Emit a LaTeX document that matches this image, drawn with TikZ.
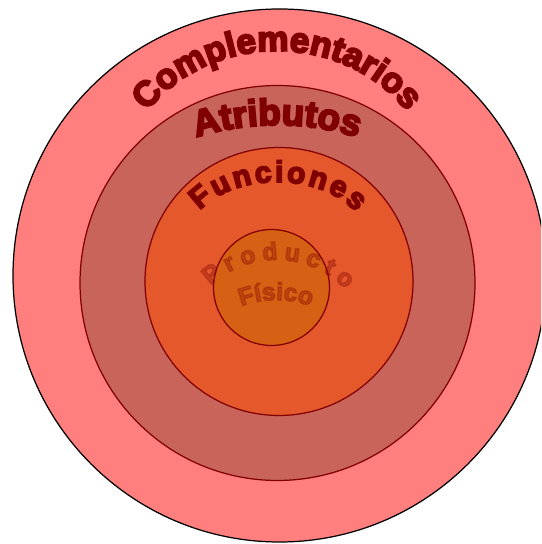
\documentclass[tikz,border=0pt]{standalone}
\usepackage{tikz}
\usepackage{xcolor}
\usepackage{fontspec}
\usetikzlibrary{decorations.text}

\newfontfamily\wordart[FakeBold=5.5]{Liberation Sans Bold}
\definecolor{ringA}{HTML}{FF7F7F}
\definecolor{ringB}{HTML}{C8645A}
\definecolor{ringC}{HTML}{E4582C}
\definecolor{ringD}{HTML}{D66014}
\definecolor{darkred}{HTML}{800000}

\tikzset{
	ring/.style={draw=#1, line width=0.7pt},
	bent label/.style 2 args={decorate, decoration={text along path, text align=center, text={|#1|#2}}},
}

\begin{document}
\begin{tikzpicture}[x=0.02cm, y=0.02cm]
	% Rings, from the outside in:
	\useasboundingbox (0,0) rectangle (541,544);
	\clip (0,0) rectangle (541,544);
	\draw[ring=black, fill=ringA] (279.5,268.5) circle[radius=266.5];
	\draw[ring=darkred, fill=ringB] (277.5,261) circle[radius=197.5];
	\draw[ring=darkred, fill=ringC] (279,262.5) circle[radius=134];
	\draw[ring=darkred, fill=ringD] (271.5,256.5) circle[radius=58];
	% Labels bent along arcs:
	\path[bent label={\wordart\fontsize{20}{20}\selectfont\color{darkred}}{Complementarios}] ([shift={(277,348)}]170:160 and 145) arc[start angle=170, end angle=10, x radius=160, y radius=145];
	\path[bent label={\wordart\fontsize{21}{21}\selectfont\color{darkred}}{Atributos}] ([shift={(277,149)}]115:270) arc[start angle=115, end angle=65, radius=270];
	\path[bent label={\wordart\fontsize{17}{17}\selectfont\color{darkred}\kern1.6pt}{Funciones}] ([shift={(277,300)}]175:92 and 62) arc[start angle=175, end angle=5, x radius=92, y radius=62];
	\begin{scope}[opacity=0.28]
		\path[bent label={\wordart\fontsize{14}{14}\selectfont\color{darkred}\kern3.4pt}{Producto}] ([shift={(276,187)}]160:97) arc[start angle=160, end angle=20, radius=97];
		\path[bent label={\wordart\fontsize{14}{14}\selectfont\color{darkred}}{Físico}] ([shift={(276,144)}]120:100) arc[start angle=120, end angle=60, radius=100];
	\end{scope}
\end{tikzpicture}
\end{document}
